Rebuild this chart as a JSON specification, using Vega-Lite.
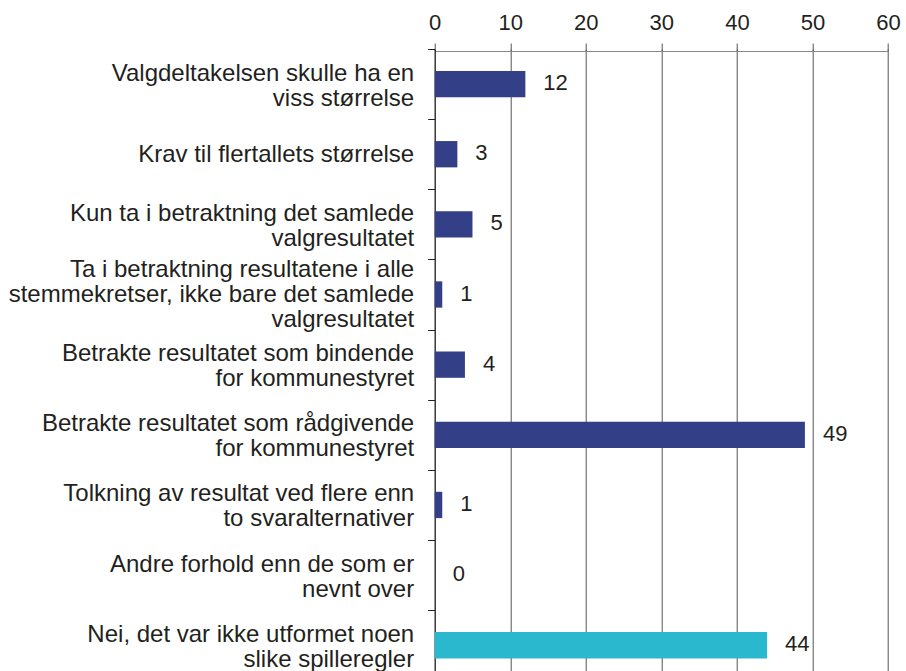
{
  "$schema": "https://vega.github.io/schema/vega-lite/v6.json",
  "autosize": "none",
  "width": 453.3,
  "height": 631.3,
  "padding": {"left": 434.7, "top": 49, "right": 18, "bottom": -9.3},
  "background": "white",
  "config": {
    "view": {"stroke": null},
    "font": "Liberation Sans",
    "text": {"font": "Liberation Sans"}
  },
  "data": {
    "values": [
      {"svar": "Valgdeltakelsen skulle ha en|viss størrelse", "antall": 12, "gruppe": "a"},
      {"svar": "Krav til flertallets størrelse", "antall": 3, "gruppe": "a"},
      {"svar": "Kun ta i betraktning det samlede|valgresultatet", "antall": 5, "gruppe": "a"},
      {"svar": "Ta i betraktning resultatene i alle|stemmekretser, ikke bare det samlede|valgresultatet", "antall": 1, "gruppe": "a"},
      {"svar": "Betrakte resultatet som bindende|for kommunestyret", "antall": 4, "gruppe": "a"},
      {"svar": "Betrakte resultatet som rådgivende|for kommunestyret", "antall": 49, "gruppe": "a"},
      {"svar": "Tolkning av resultat ved flere enn|to svaralternativer", "antall": 1, "gruppe": "a"},
      {"svar": "Andre forhold enn de som er|nevnt over", "antall": 0, "gruppe": "a"},
      {"svar": "Nei, det var ikke utformet noen|slike spilleregler", "antall": 44, "gruppe": "b"}
    ]
  },
  "encoding": {
    "y": {
      "field": "svar",
      "type": "nominal",
      "sort": null,
      "scale": {"paddingInner": 0, "paddingOuter": 0},
      "axis": {
        "title": null,
        "labelExpr": "split(datum.label, '|')",
        "labelAlign": "right",
        "labelPadding": 14,
        "labelFontSize": 24,
        "labelLineHeight": 25,
        "labelLimit": 0,
        "labelColor": "#231f20",
        "labelOffset": {
          "condition": [
            {"test": "length(split(datum.label, '|')) == 3", "value": -25},
            {"test": "length(split(datum.label, '|')) == 2", "value": -11}
          ],
          "value": 0
        },
        "tickBand": "extent",
        "tickSize": 7,
        "tickColor": "#231f20",
        "domainColor": "#231f20",
        "grid": false
      }
    }
  },
  "layer": [
    {
      "mark": {"type": "bar", "height": {"band": 0.375}},
      "encoding": {
        "x": {
          "field": "antall",
          "type": "quantitative",
          "scale": {"domain": [0, 60], "nice": false},
          "axis": {
            "orient": "top",
            "title": null,
            "values": [0, 10, 20, 30, 40, 50, 60],
            "offset": -2,
            "grid": true,
            "gridColor": "#555555",
            "gridOpacity": 1,
            "tickSize": 8,
            "tickColor": "#555555",
            "domainColor": "#888888",
            "labelFontSize": 22,
            "labelPadding": 9,
            "labelColor": "#231f20",
            "labelFlush": false
          }
        },
        "color": {
          "field": "gruppe",
          "type": "nominal",
          "scale": {"domain": ["a", "b"], "range": ["#333f87", "#2ab8cf"]},
          "legend": null
        }
      }
    },
    {
      "mark": {"type": "text", "align": "left", "dx": 18, "dy": -1, "fontSize": 22, "color": "#231f20"},
      "encoding": {
        "x": {"field": "antall", "type": "quantitative"},
        "text": {"field": "antall", "type": "quantitative"}
      }
    }
  ]
}
